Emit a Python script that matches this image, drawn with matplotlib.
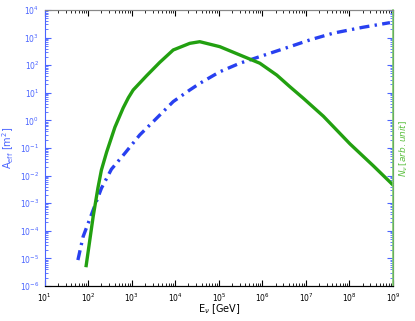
import numpy as np
import matplotlib.pyplot as plt
from matplotlib.ticker import LogLocator, NullFormatter

# effective area (blue, dash-dot) -- log10 values
aeff_logE = [1.76, 1.88, 2.11, 2.30, 2.53, 2.84, 3.18, 3.57, 3.95, 4.33, 4.56, 5.02, 5.48, 5.94, 6.63, 7.10, 7.63, 8.30, 8.93]
aeff_logA = [-5.06, -4.21, -3.25, -2.46, -1.77, -1.19, -0.53, 0.08, 0.68, 1.10, 1.34, 1.76, 2.07, 2.31, 2.67, 2.92, 3.16, 3.37, 3.54]

# neutrino spectrum (green, solid)
nu_logE = [1.95, 2.11, 2.22, 2.30, 2.42, 2.61, 2.80, 2.92, 3.03, 3.34, 3.64, 3.95, 4.33, 4.56, 5.02, 5.48, 5.94, 6.33, 6.63, 6.94, 7.40, 8.01, 8.55, 9.0]
nu_logN = [-5.26, -3.49, -2.45, -1.80, -1.15, -0.25, 0.45, 0.82, 1.10, 1.62, 2.10, 2.55, 2.79, 2.85, 2.67, 2.37, 2.07, 1.64, 1.22, 0.80, 0.15, -0.85, -1.65, -2.34]

blue = '#2840f0'
tickblue = '#4a64ff'
green = '#22a010'

fig = plt.figure(figsize=(4.15, 3.21), dpi=100)
ax = fig.add_axes([0.108, 0.109, 0.839, 0.860])

ax.plot(10**np.array(aeff_logE), 10**np.array(aeff_logA), color=blue, lw=2.4,
        linestyle=(0, (3, 1.6, 0.7, 1.6)))
ax.set_xscale('log')
ax.set_yscale('log')
ax.set_xlim(1e1, 1e9)
ax.set_ylim(1e-6, 1e4)

ax2 = ax.twinx()
ax2.plot(10**np.array(nu_logE), 10**np.array(nu_logN), color=green, lw=2.4)
ax2.set_yscale('log')
ax2.set_ylim(1e-6, 1e4)
ax2.set_xlim(1e1, 1e9)

for a in (ax, ax2):
    a.xaxis.set_major_locator(LogLocator(base=10, numticks=20))
    a.xaxis.set_minor_locator(LogLocator(base=10, subs=range(2, 10), numticks=100))
    a.yaxis.set_major_locator(LogLocator(base=10, numticks=20))
    a.yaxis.set_minor_locator(LogLocator(base=10, subs=range(2, 10), numticks=100))
    a.yaxis.set_minor_formatter(NullFormatter())
    a.xaxis.set_minor_formatter(NullFormatter())

ax.tick_params(axis='x', which='both', direction='in', top=True, labelsize=5.5, colors='black', pad=4)
ax.tick_params(axis='x', which='major', length=4)
ax.tick_params(axis='x', which='minor', length=2)
ax.tick_params(axis='y', which='both', direction='in', labelsize=5.5, colors=tickblue, pad=4)
ax.tick_params(axis='y', which='major', length=4)
ax.tick_params(axis='y', which='minor', length=2)
ax2.tick_params(axis='y', which='both', direction='in', colors=tickblue, labelright=False)
ax2.tick_params(axis='y', which='major', length=4)
ax2.tick_params(axis='y', which='minor', length=2)

ax.spines['top'].set_color('#888888')
ax.spines['left'].set_color(tickblue)
ax.spines['bottom'].set_color('black')
ax2.spines['right'].set_color('#7fcf70')
ax2.spines['right'].set_linewidth(1.2)
ax2.spines['top'].set_color('#888888')
ax2.spines['left'].set_visible(False)

ax.set_xlabel(r'E$_\nu$ [GeV]', fontsize=7, labelpad=-1)
ax.set_ylabel(r'A$_{\rm eff}$ [m$^2$]', fontsize=7, color=tickblue, labelpad=3)
ax2.set_ylabel(r'$N_\nu\,[arb.unit]$', fontsize=6.5, color='#5cc040', labelpad=3)

fig.savefig('out.png', dpi=100)
